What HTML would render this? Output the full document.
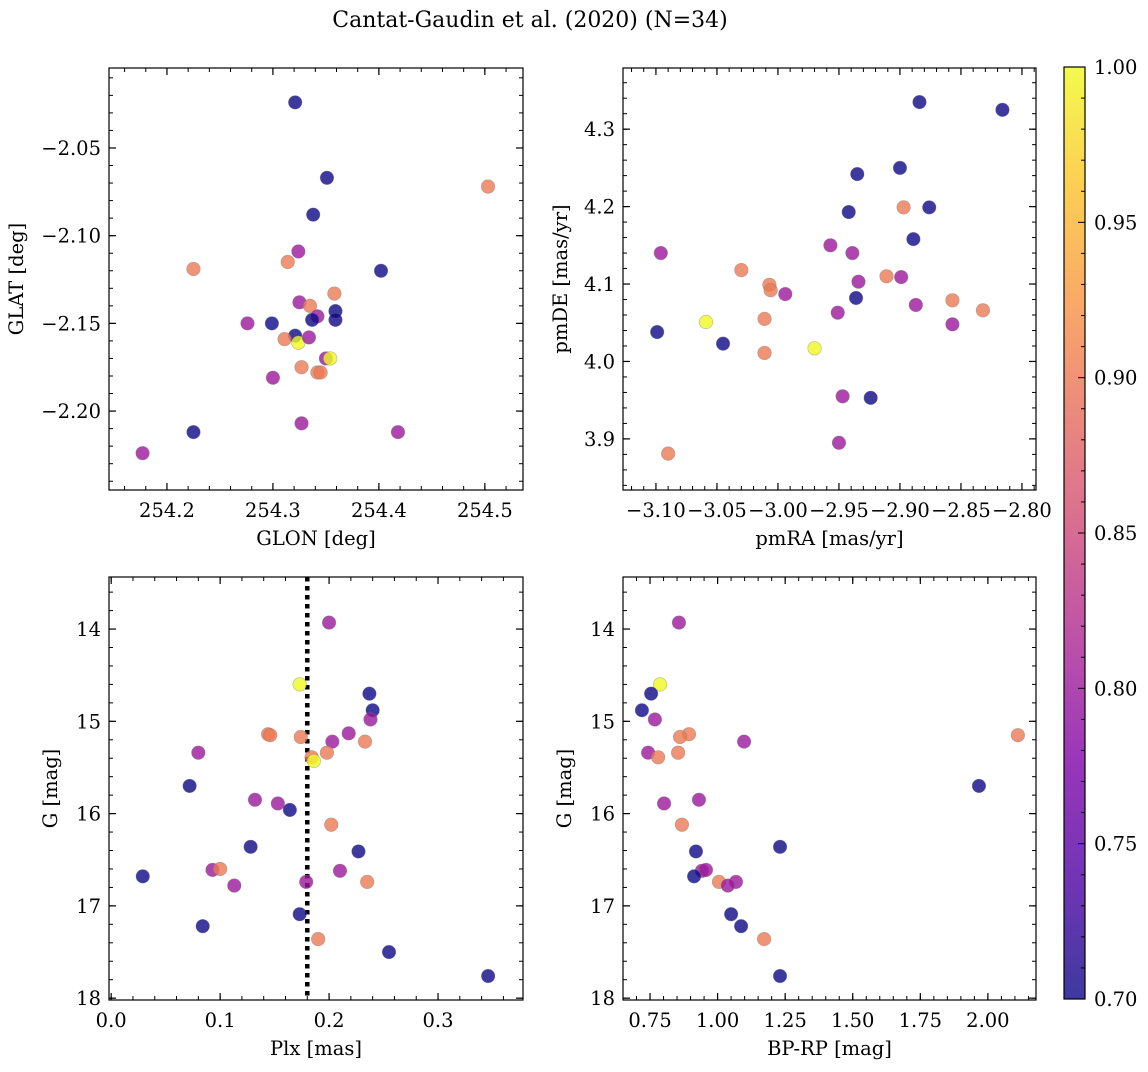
<!DOCTYPE html>
<html><head><meta charset="utf-8"><style>
html,body{margin:0;padding:0;background:#fff;}
svg text{font-family:"DejaVu Serif","Liberation Serif",serif;fill:#000;}
</style></head><body>
<svg id="fig" width="1148" height="1067" xmlns="http://www.w3.org/2000/svg">
<defs><linearGradient id="cbg" x1="0" y1="1" x2="0" y2="0"></linearGradient></defs>
<text x="530" y="27" font-size="22" text-anchor="middle">Cantat-Gaudin et al. (2020) (N=34)</text>
</svg>
<script>
// Panel 1: GLON / GLAT
const p1X=[254.321,254.351,254.338,254.503,254.225,254.324,254.314,254.402,254.358,254.325,254.335,254.359,254.342,254.337,254.359,254.276,254.299,254.321,254.311,254.324,254.334,254.350,254.354,254.327,254.342,254.345,254.300,254.327,254.418,254.225,254.177];
const p1Y=[-2.024,-2.067,-2.088,-2.072,-2.119,-2.109,-2.115,-2.120,-2.133,-2.138,-2.140,-2.143,-2.146,-2.148,-2.148,-2.150,-2.150,-2.157,-2.159,-2.161,-2.158,-2.170,-2.170,-2.175,-2.178,-2.178,-2.181,-2.207,-2.212,-2.212,-2.224];
const p1C=[0.70,0.70,0.70,0.90,0.90,0.80,0.90,0.70,0.90,0.80,0.90,0.70,0.80,0.70,0.70,0.80,0.70,0.70,0.90,1.00,0.80,0.80,1.00,0.90,0.90,0.90,0.80,0.80,0.80,0.70,0.80];
// Panel 2: pmRA / pmDE
const p2X=[-3.099,-3.096,-3.090,-3.059,-3.045,-3.030,-3.011,-3.011,-3.007,-3.006,-2.994,-2.970,-2.957,-2.951,-2.947,-2.950,-2.942,-2.939,-2.935,-2.936,-2.934,-2.924,-2.911,-2.900,-2.899,-2.897,-2.889,-2.887,-2.884,-2.876,-2.857,-2.857,-2.832,-2.816];
const p2Y=[4.038,4.140,3.881,4.051,4.023,4.118,4.011,4.055,4.099,4.092,4.087,4.017,4.150,4.063,3.955,3.895,4.193,4.140,4.242,4.082,4.103,3.953,4.110,4.250,4.109,4.199,4.158,4.073,4.335,4.199,4.048,4.079,4.066,4.325];
const p2C=[0.70,0.80,0.90,1.00,0.70,0.90,0.90,0.90,0.90,0.90,0.80,1.00,0.80,0.80,0.80,0.80,0.70,0.80,0.70,0.70,0.80,0.70,0.90,0.70,0.80,0.90,0.70,0.80,0.70,0.70,0.80,0.90,0.90,0.70];
// Panel 3: Plx / G
const p3X=[0.200,0.173,0.237,0.240,0.238,0.218,0.233,0.203,0.144,0.146,0.174,0.080,0.198,0.184,0.186,0.072,0.132,0.153,0.164,0.202,0.128,0.227,0.093,0.100,0.210,0.113,0.179,0.235,0.029,0.173,0.084,0.190,0.255,0.346];
const p3Y=[13.93,14.60,14.70,14.88,14.98,15.13,15.22,15.22,15.14,15.15,15.17,15.34,15.34,15.39,15.43,15.70,15.85,15.89,15.96,16.12,16.36,16.41,16.61,16.60,16.62,16.78,16.74,16.74,16.68,17.09,17.22,17.36,17.50,17.76];
const p3C=[0.80,1.00,0.70,0.70,0.80,0.80,0.90,0.80,0.90,0.90,0.90,0.80,0.90,0.90,1.00,0.70,0.80,0.80,0.70,0.90,0.70,0.70,0.80,0.90,0.80,0.80,0.80,0.90,0.70,0.70,0.70,0.90,0.70,0.70];
const plxLine=0.18;
// Panel 4: BP-RP / G
const p4X=[0.857,0.787,0.754,0.720,0.768,1.098,0.894,0.861,0.743,0.854,0.780,2.111,1.967,0.931,0.802,0.868,1.231,0.920,0.942,0.957,0.913,1.005,1.068,1.038,1.050,1.087,1.172,1.231];
const p4Y=[13.93,14.60,14.70,14.88,14.98,15.22,15.14,15.17,15.34,15.34,15.39,15.15,15.70,15.85,15.89,16.12,16.36,16.41,16.62,16.61,16.68,16.74,16.74,16.78,17.09,17.22,17.36,17.76];
const p4C=[0.80,1.00,0.70,0.70,0.80,0.80,0.90,0.90,0.80,0.90,0.90,0.90,0.70,0.80,0.80,0.90,0.70,0.70,0.80,0.80,0.70,0.90,0.80,0.80,0.70,0.70,0.90,0.70];
// tick labels
const p1XT=["254.2","254.3","254.4","254.5"];
const p1YT=["−2.05","−2.10","−2.15","−2.20"];
const p2XT=["−3.10","−3.05","−3.00","−2.95","−2.90","−2.85","−2.80"];
const p2YT=["3.9","4.0","4.1","4.2","4.3"];
const p3XT=["0.0","0.1","0.2","0.3"];
const gYT=["14","15","16","17","18"];
const p4XT=["0.75","1.00","1.25","1.50","1.75","2.00"];
const cbT=["0.70","0.75","0.80","0.85","0.90","0.95","1.00"];

const NS="http://www.w3.org/2000/svg";
const svg=document.getElementById('fig');
const TFS=19.5, AFS=19.5;
function mk(tag,attrs,parent){const e=document.createElementNS(NS,tag);for(const k in attrs)e.setAttribute(k,attrs[k]);(parent||svg).appendChild(e);return e;}
const stops=["#0d0887","#4c02a1","#7e03a8","#a92395","#cc4778","#e56b5d","#f89441","#fdc328","#f0f921"];
function hex(h){return [1,3,5].map(i=>parseInt(h.substr(i,2),16));}
function cmap(v){let t=(v-0.7)/0.3;t=Math.max(0,Math.min(1,t));const f=t*8,i=Math.min(7,Math.floor(f)),r=f-i;const a=hex(stops[i]),b=hex(stops[i+1]);return 'rgb('+a.map((c,k)=>Math.round(c+(b[k]-c)*r)).join(',')+')';}

function panel(name,box,xr,yr,xMaj,xMin,yMaj,yMin,xLab,yLab,xs,ys,cs,xTitle,yTitle,invertY,extra){
  const [L,T,R,B]=box;
  const g=mk('g',{});
  
  
  const sx=v=>L+(v-xr[0])/(xr[1]-xr[0])*(R-L);
  const sy=invertY?(v=>T+(v-yr[0])/(yr[1]-yr[0])*(B-T)):(v=>B-(v-yr[0])/(yr[1]-yr[0])*(B-T));
  const eps=1e-9;
  const xlo=Math.min(...xr),xhi=Math.max(...xr),ylo=Math.min(...yr),yhi=Math.max(...yr);
  for(let v=Math.ceil(xlo/xMin-eps)*xMin;v<=xhi+eps;v+=xMin){const x=sx(v);mk('line',{x1:x,x2:x,y1:B,y2:B-4,stroke:'#000','stroke-width':1},g);mk('line',{x1:x,x2:x,y1:T,y2:T+4,stroke:'#000','stroke-width':1},g);}
  for(let v=Math.ceil(ylo/yMin-eps)*yMin;v<=yhi+eps;v+=yMin){const y=sy(v);mk('line',{x1:L,x2:L+4,y1:y,y2:y,stroke:'#000','stroke-width':1},g);mk('line',{x1:R,x2:R-4,y1:y,y2:y,stroke:'#000','stroke-width':1},g);}
  xMaj.forEach((v,i)=>{const x=sx(v);mk('line',{x1:x,x2:x,y1:B,y2:B-7,stroke:'#000','stroke-width':1.2},g);mk('line',{x1:x,x2:x,y1:T,y2:T+7,stroke:'#000','stroke-width':1.2},g);
    const t=mk('text',{x:x,y:B+27,'font-size':TFS,'text-anchor':'middle'},g);t.textContent=xLab[i];
    
    });
  yMaj.forEach((v,i)=>{const y=sy(v);mk('line',{x1:L,x2:L+7,y1:y,y2:y,stroke:'#000','stroke-width':1.2},g);mk('line',{x1:R,x2:R-7,y1:y,y2:y,stroke:'#000','stroke-width':1.2},g);
    const t=mk('text',{x:L-8,y:y+7,'font-size':TFS,'text-anchor':'end'},g);t.textContent=yLab[i];
    
    });
  if(extra)extra(g,sx,sy);
  xs.forEach((v,i)=>{const c=mk('circle',{cx:sx(v),cy:sy(ys[i]),r:6.8,fill:cmap(cs[i]),'fill-opacity':0.8,stroke:'#777','stroke-opacity':0.5,'stroke-width':0.6},g);
    
    });
  mk('rect',{x:L,y:T,width:R-L,height:B-T,fill:'none',stroke:'#000','stroke-width':1.2},g);
  const xt=mk('text',{x:(L+R)/2,y:B+55,'font-size':AFS,'text-anchor':'middle'},g);xt.textContent=xTitle;
  
  
  const yx=yTitle[1];
  const yt=mk('text',{x:yx,y:(T+B)/2,'font-size':AFS,'text-anchor':'middle',transform:'rotate(-90 '+yx+' '+(T+B)/2+')'},g);yt.textContent=yTitle[0];
  
  
}
panel('panel-glon-glat',[109,68,523,490],[254.1453,254.536],[-2.245,-2.0044],[254.2,254.3,254.4,254.5],0.02,[-2.05,-2.10,-2.15,-2.20],0.01,p1XT,p1YT,p1X,p1Y,p1C,'GLON [deg]',['GLAT [deg]',23],false);
panel('panel-pm',[623,68,1036,490],[-3.127,-2.7885],[3.834,4.379],[-3.10,-3.05,-3.00,-2.95,-2.90,-2.85,-2.80],0.01,[3.9,4.0,4.1,4.2,4.3],0.02,p2XT,p2YT,p2X,p2Y,p2C,'pmRA [mas/yr]',['pmDE [mas/yr]',567],false);
panel('panel-plx-g',[109,577,523,1000],[-0.002,0.378],[13.436,18.02],[0,0.1,0.2,0.3],0.02,[14,15,16,17,18],0.2,p3XT,gYT,p3X,p3Y,p3C,'Plx [mas]',['G [mag]',57],true,
  (g,sx,sy)=>{const x=sx(plxLine);const l=mk('line',{x1:x,x2:x,y1:577,y2:1000,stroke:'#000','stroke-width':4.5,'stroke-dasharray':'4.5,4.5'},g);
   
   });
panel('panel-color-g',[623,577,1036,1000],[0.650,2.178],[13.436,18.02],[0.75,1.0,1.25,1.5,1.75,2.0],0.05,[14,15,16,17,18],0.2,p4XT,gYT,p4X,p4Y,p4C,'BP-RP [mag]',['G [mag]',571],true);

// colorbar
const cbL=1064,cbR=1085,cbT0=67,cbB=999;
const gr=document.getElementById('cbg');
stops.forEach((s,i)=>mk('stop',{offset:(i/8),'stop-color':s,'stop-opacity':0.8},gr));
const cbg=mk('g',{});


mk('rect',{x:cbL,y:cbT0,width:cbR-cbL,height:cbB-cbT0,fill:'url(#cbg)',stroke:'#000','stroke-width':1.2},cbg);
const cy=v=>cbB-(v-0.7)/0.3*(cbB-cbT0);
for(let k=0;k<=30;k++){const v=0.7+k*0.01,y=cy(v);const major=k%5===0;mk('line',{x1:cbR,x2:cbR-(major?7:4),y1:y,y2:y,stroke:'#000','stroke-width':1},cbg);}
cbT.forEach(s=>{const v=parseFloat(s),y=cy(v);const t=mk('text',{x:cbR+9,y:y+7,'font-size':TFS},cbg);t.textContent=s;
  
  });
</script>
</body></html>
